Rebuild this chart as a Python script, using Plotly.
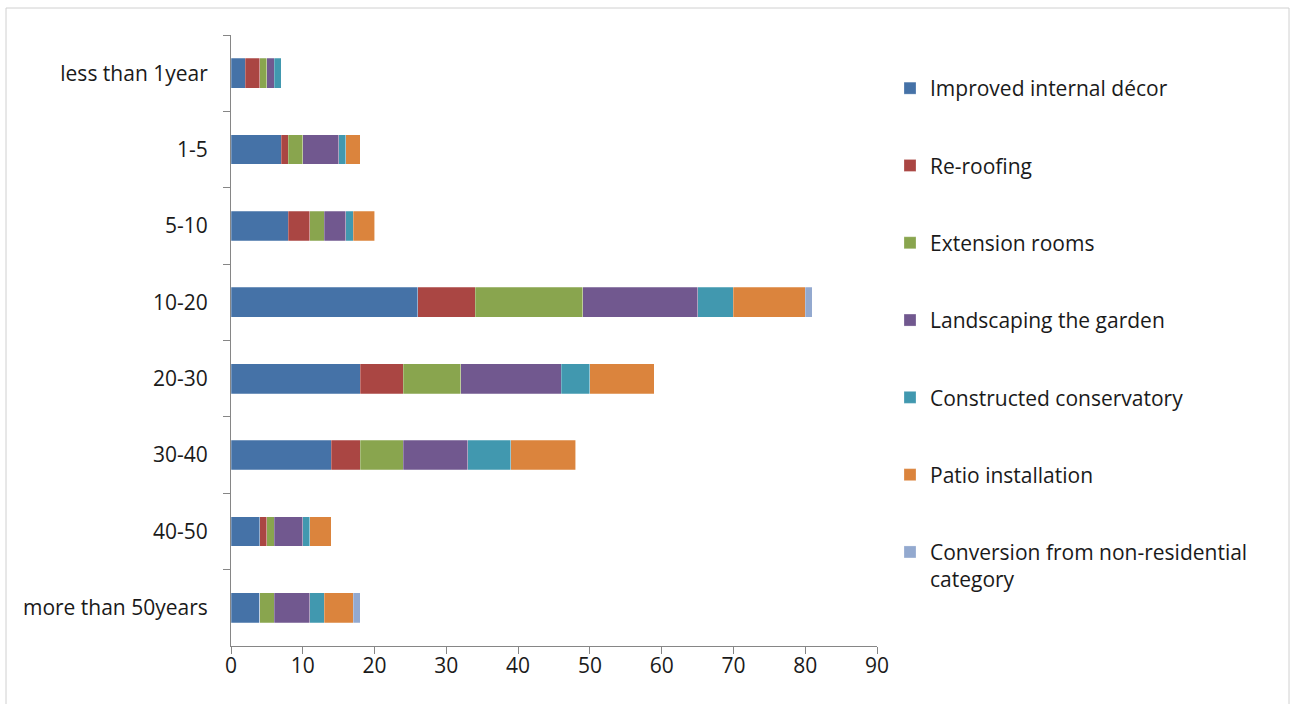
import plotly.graph_objects as go

# Age of property bands (top to bottom)
categories = ["less than 1year", "1-5", "5-10", "10-20", "20-30", "30-40", "40-50", "more than 50years"]

# Number of respondents per improvement type in each band
improved_decor = [2, 7, 8, 26, 18, 14, 4, 4]
re_roofing = [2, 1, 3, 8, 6, 4, 1, 0]
extension_rooms = [1, 2, 2, 15, 8, 6, 1, 2]
landscaping = [1, 5, 3, 16, 14, 9, 4, 5]
conservatory = [1, 1, 1, 5, 4, 6, 1, 2]
patio = [0, 2, 3, 10, 9, 9, 3, 4]
conversion = [0, 0, 0, 1, 0, 0, 0, 1]

series_names = [
    "Improved internal décor",
    "Re-roofing",
    "Extension rooms",
    "Landscaping the garden",
    "Constructed conservatory",
    "Patio installation",
    "Conversion from non-residential<br>category",
]
series_values = [improved_decor, re_roofing, extension_rooms, landscaping,
                 conservatory, patio, conversion]
colors = ["#4572A7", "#AA4643", "#89A54E", "#71588F", "#4198AF", "#DB843D", "#93A9CF"]

x_ticks = [0, 10, 20, 30, 40, 50, 60, 70, 80, 90]

FONT = "'Open Sans', Lato, sans-serif"
FSIZE = 21
TXT = "#1a1a1a"

fig = go.Figure()
for i, (name, vals, col) in enumerate(zip(series_names, series_values, colors)):
    fig.add_trace(go.Bar(
        y=categories,
        x=vals,
        name=name,
        orientation="h",
        marker=dict(color=col, line=dict(color="rgba(255,255,255,0.5)", width=0.5)),
        legendgroup=f"g{i}",
        hoverinfo="x+name",
    ))

W, H = 1297, 704
L, R, T, B = 231, 877, 35, 646

def px_x(p):
    return (p - L) / (R - L)

def px_y(p):
    return (B - p) / (B - T)

fig.update_layout(
    width=W,
    height=H,
    barmode="stack",
    bargap=0.61,
    margin=dict(l=L, r=W - R, t=T, b=H - B, pad=0),
    paper_bgcolor="white",
    plot_bgcolor="white",
    font=dict(family=FONT, size=FSIZE, color=TXT),
    showlegend=True,
    legend=dict(
        x=px_x(890),
        y=px_y(68),
        xanchor="left",
        yanchor="top",
        tracegroupgap=47,
        valign="top",
        font=dict(family=FONT, size=FSIZE, color=TXT),
        bgcolor="rgba(0,0,0,0)",
    ),
    xaxis=dict(
        range=[0, 90],
        tickvals=x_ticks,
        ticktext=[str(v) for v in x_ticks],
        showgrid=False,
        zeroline=False,
        showline=True,
        linecolor="#868686",
        linewidth=1,
        ticks="outside",
        ticklen=7,
        tickcolor="#868686",
        ticklabelstandoff=-6,
        tickfont=dict(family=FONT, size=FSIZE, color=TXT),
        fixedrange=True,
    ),
    yaxis=dict(
        categoryorder="array",
        categoryarray=categories,
        autorange="reversed",
        showgrid=False,
        zeroline=False,
        showline=True,
        linecolor="#868686",
        linewidth=1,
        ticks="outside",
        ticklen=7,
        tickcolor="#868686",
        tickson="boundaries",
        ticklabelstandoff=18,
        tickfont=dict(family=FONT, size=FSIZE, color=TXT),
        fixedrange=True,
    ),
    shapes=[dict(
        type="rect", xref="paper", yref="paper",
        x0=px_x(6), x1=px_x(1289), y0=px_y(712), y1=px_y(8),
        line=dict(color="#d0d0d0", width=1),
        fillcolor="rgba(0,0,0,0)",
        layer="below",
    )],
)

fig.write_html("out.html")
